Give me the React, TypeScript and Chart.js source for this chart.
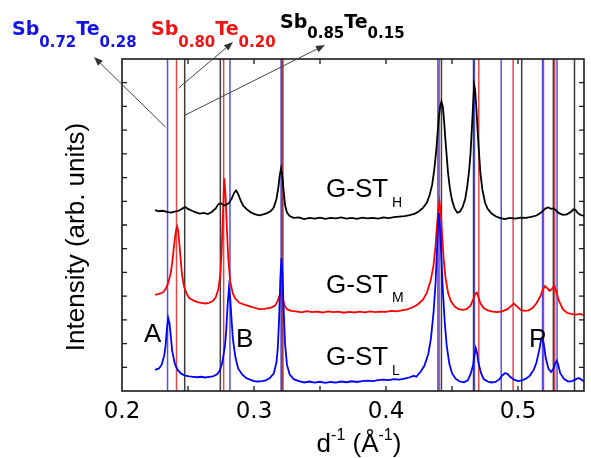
import React, { useEffect, useRef } from 'react';
import { Chart, registerables } from 'chart.js';
Chart.register(...registerables);

// ---------- data ----------
const xRange = [0.2, 0.55];
const yRange = [0, 14];
const xTickStep = 0.05;
const xTickLabels = ['0.2', '0.3', '0.4', '0.5'];

// G-ST_H (black)
const curveH: [number, number][] = [
  [0.225,7.63],[0.228,7.58],[0.231,7.6],[0.234,7.55],[0.237,7.52],[0.24,7.56],[0.243,7.6],[0.246,7.7],[0.248,7.76],[0.25,7.68],
  [0.253,7.6],[0.256,7.53],[0.259,7.48],[0.262,7.51],[0.265,7.46],[0.268,7.55],[0.271,7.7],[0.273,7.88],[0.275,7.92],[0.277,7.82],
  [0.279,7.86],[0.281,7.92],[0.283,8.1],[0.285,8.36],[0.2865,8.45],[0.288,8.3],[0.29,8.02],[0.292,7.8],[0.295,7.64],[0.298,7.52],
  [0.301,7.45],[0.304,7.41],[0.307,7.45],[0.31,7.5],[0.313,7.6],[0.315,7.75],[0.317,8.1],[0.3185,8.6],[0.3195,9.1],[0.3205,9.39],
  [0.3215,9.05],[0.3225,8.4],[0.3235,7.85],[0.325,7.52],[0.327,7.38],[0.33,7.3],[0.334,7.32],[0.338,7.25],[0.342,7.3],[0.346,7.27],
  [0.35,7.31],[0.354,7.26],[0.358,7.3],[0.362,7.28],[0.366,7.32],[0.37,7.27],[0.374,7.3],[0.378,7.26],[0.382,7.31],[0.386,7.28],
  [0.39,7.3],[0.394,7.27],[0.398,7.32],[0.402,7.29],[0.406,7.33],[0.41,7.35],[0.414,7.37],[0.418,7.42],[0.422,7.48],[0.425,7.58],
  [0.428,7.72],[0.431,7.95],[0.433,8.25],[0.435,8.7],[0.4365,9.3],[0.438,10.1],[0.439,10.8],[0.44,11.5],[0.441,12.0],[0.442,12.2],
  [0.443,12.0],[0.444,11.4],[0.445,10.6],[0.446,9.9],[0.447,9.2],[0.4485,8.5],[0.45,8.05],[0.452,7.7],[0.454,7.52],[0.456,7.56],
  [0.458,7.75],[0.46,8.1],[0.4615,8.6],[0.463,9.3],[0.464,10.0],[0.465,11.0],[0.466,12.1],[0.4668,12.9],[0.4675,12.7],[0.4685,11.9],
  [0.4695,10.9],[0.4705,10.0],[0.4715,9.2],[0.473,8.5],[0.475,7.95],[0.477,7.68],[0.48,7.48],[0.483,7.37],[0.486,7.3],[0.49,7.25],
  [0.494,7.3],[0.498,7.27],[0.502,7.31],[0.506,7.3],[0.51,7.34],[0.514,7.4],[0.517,7.5],[0.519,7.6],[0.521,7.7],[0.523,7.74],
  [0.525,7.68],[0.527,7.7],[0.529,7.6],[0.531,7.5],[0.534,7.43],[0.537,7.45],[0.54,7.55],[0.542,7.66],[0.5435,7.64],[0.545,7.52],
  [0.547,7.43],[0.55,7.38],
];

// G-ST_M (red)
const curveM: [number, number][] = [
  [0.225,4.05],[0.228,4.1],[0.231,4.15],[0.233,4.3],[0.235,4.55],[0.237,5.0],[0.238,5.4],[0.239,5.9],[0.24,6.4],[0.241,6.8],
  [0.2418,6.93],[0.2425,6.75],[0.2435,6.2],[0.2445,5.5],[0.2455,4.9],[0.247,4.4],[0.249,4.1],[0.251,3.92],[0.254,3.82],[0.257,3.75],
  [0.26,3.72],[0.263,3.69],[0.266,3.72],[0.269,3.8],[0.271,3.95],[0.273,4.3],[0.2745,4.9],[0.2755,5.9],[0.2765,7.5],[0.2775,8.97],
  [0.2785,8.2],[0.2795,6.8],[0.2805,5.6],[0.282,4.6],[0.284,4.1],[0.286,3.88],[0.289,3.72],[0.292,3.65],[0.295,3.6],[0.298,3.55],
  [0.301,3.5],[0.304,3.45],[0.307,3.46],[0.31,3.48],[0.313,3.52],[0.316,3.6],[0.318,3.8],[0.3195,4.05],[0.3205,4.13],[0.3215,3.95],
  [0.323,3.62],[0.325,3.45],[0.328,3.38],[0.332,3.36],[0.336,3.32],[0.34,3.37],[0.344,3.33],[0.348,3.35],[0.352,3.31],[0.356,3.36],
  [0.36,3.33],[0.364,3.35],[0.368,3.3],[0.372,3.34],[0.376,3.31],[0.38,3.35],[0.384,3.32],[0.388,3.36],[0.392,3.33],[0.396,3.35],
  [0.4,3.34],[0.404,3.38],[0.408,3.36],[0.412,3.4],[0.416,3.44],[0.42,3.52],[0.424,3.65],[0.428,3.85],[0.431,4.15],[0.434,4.7],
  [0.436,5.3],[0.4375,6.1],[0.4385,6.9],[0.4395,7.6],[0.4405,7.98],[0.4415,7.5],[0.4425,6.6],[0.4435,5.7],[0.445,4.8],[0.447,4.15],
  [0.449,3.8],[0.452,3.56],[0.455,3.45],[0.458,3.42],[0.461,3.45],[0.464,3.6],[0.466,3.85],[0.4675,4.1],[0.4688,4.15],[0.47,3.95],
  [0.4715,3.7],[0.474,3.5],[0.477,3.4],[0.48,3.36],[0.484,3.33],[0.488,3.36],[0.492,3.45],[0.495,3.6],[0.497,3.68],[0.499,3.58],
  [0.502,3.42],[0.505,3.38],[0.508,3.4],[0.511,3.5],[0.514,3.7],[0.517,4.0],[0.519,4.3],[0.5205,4.42],[0.522,4.35],[0.524,4.22],
  [0.526,4.32],[0.5275,4.45],[0.529,4.2],[0.531,3.8],[0.534,3.45],[0.537,3.3],[0.54,3.25],[0.544,3.22],[0.547,3.25],[0.55,3.2],
];

// G-ST_L (blue)
const curveL: [number, number][] = [
  [0.225,0.89],[0.228,0.95],[0.23,1.1],[0.232,1.5],[0.233,1.9],[0.234,2.6],[0.235,3.07],[0.236,2.85],[0.237,2.3],[0.238,1.7],
  [0.24,1.15],[0.242,0.9],[0.245,0.72],[0.248,0.65],[0.251,0.62],[0.254,0.6],[0.257,0.58],[0.26,0.6],[0.263,0.57],[0.266,0.6],
  [0.269,0.62],[0.272,0.7],[0.274,0.85],[0.276,1.2],[0.278,1.9],[0.279,2.6],[0.28,3.6],[0.281,4.33],[0.282,3.9],[0.283,3.0],
  [0.284,2.2],[0.286,1.4],[0.288,0.95],[0.291,0.7],[0.294,0.55],[0.297,0.48],[0.3,0.42],[0.303,0.4],[0.306,0.42],[0.309,0.45],
  [0.312,0.55],[0.315,0.75],[0.317,1.2],[0.318,1.8],[0.319,3.0],[0.32,4.8],[0.3208,5.6],[0.3215,5.0],[0.3225,3.4],[0.3235,2.0],
  [0.325,1.1],[0.327,0.7],[0.33,0.5],[0.334,0.42],[0.338,0.36],[0.342,0.4],[0.346,0.35],[0.35,0.39],[0.354,0.34],[0.358,0.38],
  [0.362,0.35],[0.366,0.4],[0.37,0.37],[0.374,0.41],[0.378,0.38],[0.382,0.42],[0.386,0.44],[0.39,0.42],[0.394,0.46],[0.398,0.48],
  [0.402,0.46],[0.406,0.5],[0.41,0.48],[0.414,0.52],[0.418,0.58],[0.421,0.64],[0.423,0.6],[0.426,0.8],[0.429,1.05],[0.432,1.55],
  [0.434,2.2],[0.436,3.3],[0.4375,4.5],[0.4385,5.8],[0.4393,6.8],[0.44,7.5],[0.4408,7.0],[0.4418,5.8],[0.443,4.3],[0.4445,2.9],
  [0.446,1.9],[0.448,1.15],[0.45,0.75],[0.453,0.5],[0.456,0.4],[0.459,0.37],[0.462,0.45],[0.464,0.7],[0.466,1.1],[0.467,1.5],
  [0.468,1.8],[0.469,1.6],[0.47,1.2],[0.472,0.75],[0.474,0.5],[0.477,0.4],[0.48,0.36],[0.483,0.38],[0.486,0.5],[0.488,0.65],
  [0.49,0.75],[0.492,0.72],[0.494,0.6],[0.497,0.48],[0.5,0.42],[0.503,0.45],[0.506,0.52],[0.509,0.65],[0.512,0.9],[0.514,1.2],
  [0.516,1.7],[0.5175,2.15],[0.5185,2.26],[0.5195,2.0],[0.521,1.4],[0.523,0.95],[0.525,0.8],[0.527,0.95],[0.528,1.15],[0.5293,1.28],
  [0.5305,1.1],[0.532,0.75],[0.535,0.5],[0.538,0.4],[0.541,0.42],[0.544,0.5],[0.546,0.55],[0.548,0.48],[0.55,0.4],
];

// reference peak positions (d^-1)
const refBlue = [0.2345, 0.2818, 0.3205, 0.4393, 0.467, 0.4873, 0.5186, 0.5296];
const refRed = [0.2413, 0.277, 0.322, 0.4403, 0.4703, 0.4963, 0.5193, 0.5278];
const refBlack = [0.2475, 0.2745, 0.3213, 0.442, 0.4663, 0.5028, 0.5268, 0.5428];

const SANS = '"Liberation Sans", Arial, sans-serif';
const DEJAVU = '"DejaVu Sans", sans-serif';

type Part = { t: string; size: number; dy: number; bold?: boolean; fam?: string };

function drawRich(ctx: CanvasRenderingContext2D, x: number, y: number, parts: Part[], color: string, gap = 0) {
  ctx.fillStyle = color;
  ctx.textAlign = 'left';
  ctx.textBaseline = 'alphabetic';
  let cx = x;
  parts.forEach((p, i) => {
    ctx.font = `${p.bold ? 'bold ' : ''}${p.size}px ${p.fam || SANS}`;
    ctx.fillText(p.t, cx, y + p.dy);
    cx += ctx.measureText(p.t).width + (i < parts.length - 1 ? gap : 0);
  });
}

function richWidth(ctx: CanvasRenderingContext2D, parts: Part[]) {
  let w = 0;
  parts.forEach((p) => {
    ctx.font = `${p.bold ? 'bold ' : ''}${p.size}px ${p.fam || SANS}`;
    w += ctx.measureText(p.t).width;
  });
  return w;
}

function arrow(ctx: CanvasRenderingContext2D, x1: number, y1: number, x2: number, y2: number) {
  ctx.strokeStyle = '#444';
  ctx.fillStyle = '#333';
  ctx.lineWidth = 1;
  const ang = Math.atan2(y2 - y1, x2 - x1);
  const L = 9, W = 3.5;
  const bx = x2 - L * Math.cos(ang), by = y2 - L * Math.sin(ang);
  ctx.beginPath();
  ctx.moveTo(x1, y1);
  ctx.lineTo(bx, by);
  ctx.stroke();
  ctx.beginPath();
  ctx.moveTo(x2, y2);
  ctx.lineTo(bx + W * Math.sin(ang), by - W * Math.cos(ang));
  ctx.lineTo(bx - W * Math.sin(ang), by + W * Math.cos(ang));
  ctx.closePath();
  ctx.fill();
}

const overlay = {
  id: 'overlay',
  beforeDatasetsDraw(chart: any) {
    const { ctx, chartArea: a, scales } = chart;
    const x = scales.x;
    ctx.save();
    ctx.lineWidth = 1.5;
    const sets: [number[], string][] = [
      [refBlack, 'rgba(40,40,40,0.9)'],
      [refRed, 'rgba(225,40,40,0.85)'],
      [refBlue, 'rgba(50,50,235,0.85)'],
    ];
    sets.forEach(([vals, col]) => {
      ctx.strokeStyle = col;
      vals.forEach((v) => {
        const px = x.getPixelForValue(v);
        ctx.beginPath();
        ctx.moveTo(px, a.top);
        ctx.lineTo(px, a.bottom);
        ctx.stroke();
      });
    });
    ctx.restore();
  },
  afterDraw(chart: any) {
    const { ctx, chartArea: a, scales } = chart;
    const x = scales.x, y = scales.y;
    ctx.save();
    // frame
    ctx.strokeStyle = '#1a1a1a';
    ctx.lineWidth = 1.6;
    ctx.strokeRect(a.left, a.top, a.right - a.left, a.bottom - a.top);
    // inner ticks
    ctx.lineWidth = 1.3;
    const T = 5;
    x.ticks.forEach((t: any) => {
      const px = x.getPixelForValue(t.value);
      if (px <= a.left + 1 || px >= a.right - 1) return;
      ctx.beginPath();
      ctx.moveTo(px, a.bottom); ctx.lineTo(px, a.bottom - T);
      ctx.moveTo(px, a.top); ctx.lineTo(px, a.top + T);
      ctx.stroke();
    });
    y.ticks.forEach((t: any) => {
      const py = y.getPixelForValue(t.value);
      if (py <= a.top + 1 || py >= a.bottom - 1) return;
      ctx.beginPath();
      ctx.moveTo(a.left, py); ctx.lineTo(a.left + T, py);
      ctx.moveTo(a.right, py); ctx.lineTo(a.right - T, py);
      ctx.stroke();
    });

    // arrows from reference lines to composition labels
    arrow(ctx, x.getPixelForValue(0.233), y.getPixelForValue(11.13), 94, 57);
    arrow(ctx, x.getPixelForValue(0.2428), y.getPixelForValue(12.77), 233, 42);
    arrow(ctx, x.getPixelForValue(0.2477), y.getPixelForValue(11.63), 325, 45);

    // composition labels
    const comp = (a1: string, a2: string, col: string, px: number, py: number, dy: number) => {
      drawRich(ctx, px, py, [
        { t: 'Sb', size: 19, dy: 0, bold: true, fam: DEJAVU },
        { t: a1, size: 15, dy, bold: true, fam: DEJAVU },
        { t: 'Te', size: 19, dy: 0, bold: true, fam: DEJAVU },
        { t: a2, size: 15, dy, bold: true, fam: DEJAVU },
      ], col);
    };
    comp('0.72', '0.28', '#1414e6', 12, 35, 12);
    comp('0.80', '0.20', '#f01414', 151, 35, 12);
    comp('0.85', '0.15', '#000000', 280, 28, 10);

    // curve labels
    const gst = (sub: string, py: number, dy: number) => {
      drawRich(ctx, 326, py, [
        { t: 'G-ST', size: 26, dy: 0 },
        { t: sub, size: 14, dy },
      ], '#000', 4);
    };
    gst('H', 196.5, 10);
    gst('M', 292.5, 9.5);
    gst('L', 365, 10);
    drawRich(ctx, 144, 342, [{ t: 'A', size: 26, dy: 0 }], '#000');
    drawRich(ctx, 236, 347, [{ t: 'B', size: 26, dy: 0 }], '#000');
    drawRich(ctx, 529, 347, [{ t: 'P', size: 26, dy: 0 }], '#000');

    // y title
    ctx.save();
    ctx.translate(84, 237);
    ctx.rotate(-Math.PI / 2);
    ctx.font = `26px ${SANS}`;
    ctx.fillStyle = '#000';
    ctx.textAlign = 'center';
    ctx.textBaseline = 'alphabetic';
    ctx.fillText('Intensity (arb. units)', 0, 0);
    ctx.restore();

    // x title
    const xt: Part[] = [
      { t: 'd', size: 26, dy: 0 },
      { t: '-1', size: 16, dy: -12 },
      { t: ' (Å', size: 26, dy: 0 },
      { t: '-1', size: 16, dy: -12 },
      { t: ')', size: 26, dy: 0 },
    ];
    const w = richWidth(ctx, xt);
    drawRich(ctx, 359 - w / 2, 452, xt, '#000');
    ctx.restore();
  },
};

export default function App() {
  const ref = useRef<HTMLCanvasElement | null>(null);
  useEffect(() => {
    if (!ref.current) return;
    const mk = (pts: [number, number][]) => pts.map(([x, y]) => ({ x, y }));
    const chart = new Chart(ref.current, {
      type: 'line',
      data: {
        datasets: [
          { label: 'G-ST_H', data: mk(curveH), borderColor: '#000000', borderWidth: 1.8, pointRadius: 0, tension: 0, fill: false },
          { label: 'G-ST_L', data: mk(curveL), borderColor: '#0000ff', borderWidth: 1.8, pointRadius: 0, tension: 0, fill: false },
          { label: 'G-ST_M', data: mk(curveM), borderColor: '#ff0000', borderWidth: 1.8, pointRadius: 0, tension: 0, fill: false },
        ],
      },
      options: {
        animation: false,
        responsive: false,
        devicePixelRatio: 1,
        layout: { padding: { top: 59, right: 3, left: 0, bottom: 0 } },
        plugins: { legend: { display: false }, tooltip: { enabled: false } },
        scales: {
          x: {
            type: 'linear',
            min: xRange[0],
            max: xRange[1],
            grid: { display: false, drawTicks: false },
            border: { display: false },
            ticks: {
              stepSize: xTickStep,
              includeBounds: false,
              autoSkip: false,
              maxRotation: 0,
              padding: 7,
              color: '#000',
              font: { family: DEJAVU, size: 23 },
              callback: (v: any) => {
                const s = Number(v).toFixed(2);
                const lbl = Number(v).toFixed(1);
                return s.endsWith('0') && xTickLabels.includes(lbl) ? lbl : '';
              },
            },
            afterFit: (s: any) => { s.height = 67; },
          },
          y: {
            type: 'linear',
            min: yRange[0],
            max: yRange[1],
            grid: { display: false, drawTicks: false },
            border: { display: false },
            ticks: { display: false, stepSize: 1 },
            afterFit: (s: any) => { s.width = 122; },
          },
        },
      } as any,
      plugins: [overlay],
    });
    return () => chart.destroy();
  }, []);
  return (
    <div style={{ position: 'absolute', left: 0, top: 0, width: 591, height: 458, background: '#fff' }}>
      <canvas ref={ref} width={591} height={458} style={{ display: 'block' }} />
    </div>
  );
}
